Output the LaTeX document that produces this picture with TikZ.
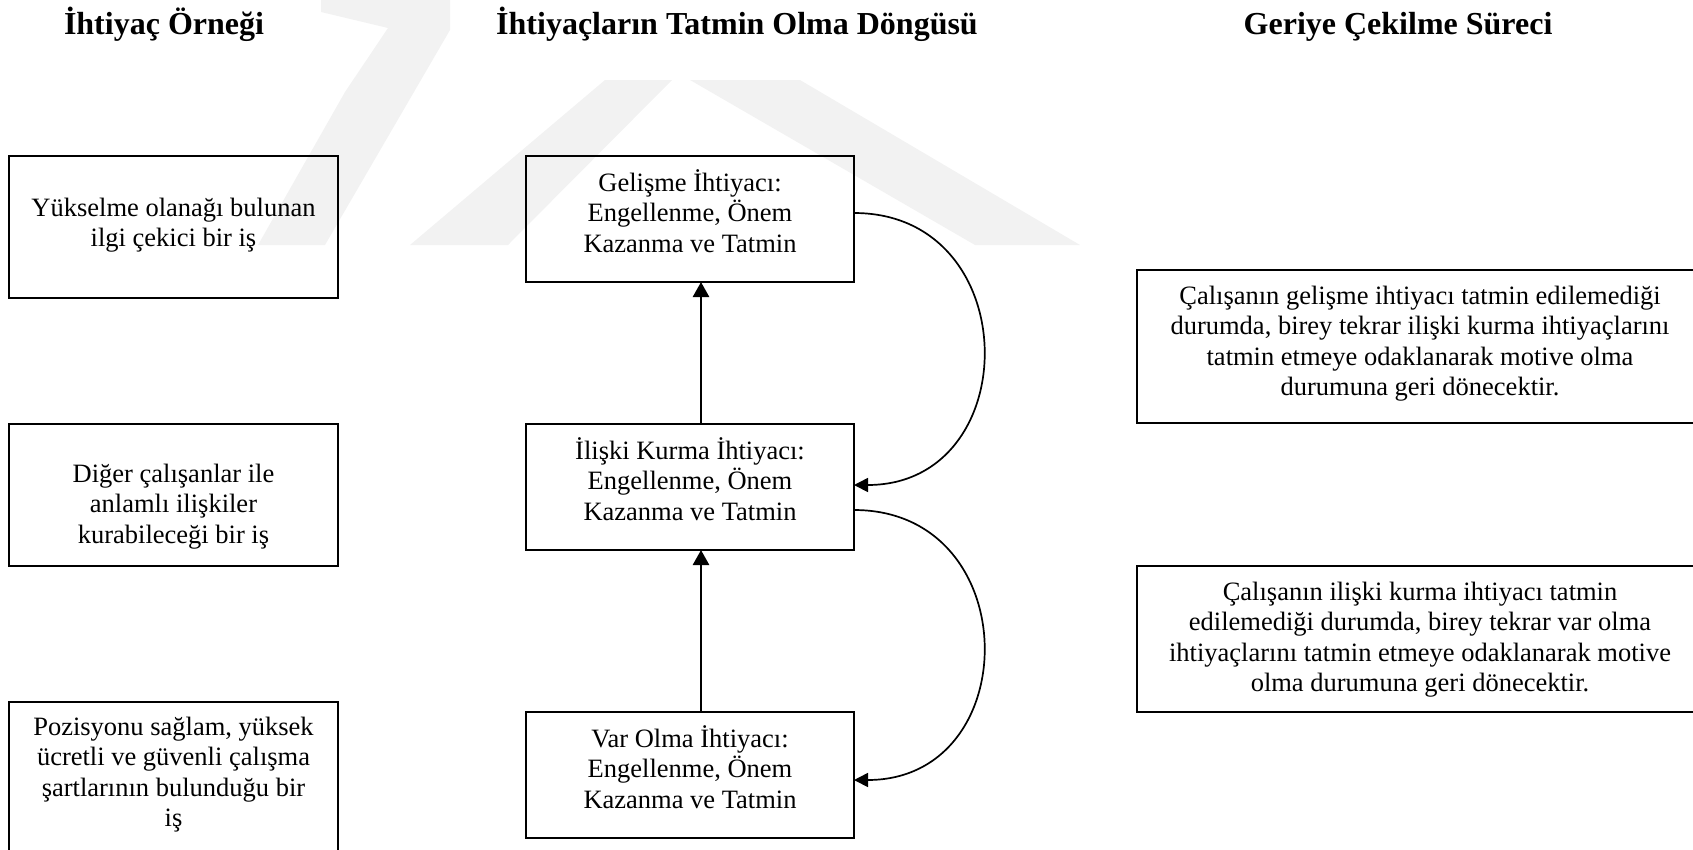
\documentclass[tikz,border=0pt]{standalone}
\usepackage{fontspec}
\setmainfont{Liberation Serif}
\usetikzlibrary{arrows.meta,calc}

\definecolor{wmgray}{gray}{0.95}

% centred lines with a fixed baseline pitch; the baseline is that of the first line
\newcommand{\boxlines}[1]{\vtop{\baselineskip=30.5pt\lineskiplimit=-60pt\lineskip=0pt\halign{\hfil##\hfil\cr#1\crcr}}}

\begin{document}
\begin{tikzpicture}[x=1pt,y=-1pt,
  box/.style={draw=black, line width=2pt, inner sep=0pt, outer sep=0pt},
  txt/.style={inner sep=0pt, anchor=base, font=\fontsize{26.5}{30.5}\selectfont},
  head/.style={inner sep=0pt, anchor=base, font=\fontsize{32}{38}\selectfont\bfseries},
  uparrow/.style={line width=2.6pt, -{Triangle[length=15pt,width=16pt]}},
  curvearrow/.style={line width=1.7pt, -{Triangle[length=14pt,width=14pt]}}]

\useasboundingbox (0,0) rectangle (1693,849);

% faint background mark
\fill[wmgray] (321,0) -- (450,0) -- (450,30) -- (325,245) -- (258,245) -- (345,92) -- (388,28) -- (321,12) -- cycle;
\fill[wmgray] (605,80) -- (672,80) -- (508,245) -- (410,245) -- cycle;
\fill[wmgray] (690,80) -- (800,80) -- (1080,245) -- (975,245) -- cycle;

% headings
\node[head] (h1) at (164,34) {İhtiyaç Örneği};
\node[head] (h2) at (737,34) {İhtiyaçların Tatmin Olma Döngüsü};
\node[head] (h3) at (1398,34) {Geriye Çekilme Süreci};

% left column: examples
\node[box, minimum width=329pt, minimum height=142pt] (l1) at (173.5,227) {};
\node[box, minimum width=329pt, minimum height=142pt] (l2) at (173.5,495) {};
\node[box, minimum width=329pt, minimum height=170pt] (l3) at (173.5,787) {};
\node[txt] (l1t) at (173.5,216) {\boxlines{Yükselme olanağı bulunan\cr ilgi çekici bir iş}};
\node[txt] (l2t) at (173.5,482) {\boxlines{Diğer çalışanlar ile\cr anlamlı ilişkiler\cr kurabileceği bir iş}};
\node[txt] (l3t) at (173.5,735) {\boxlines{Pozisyonu sağlam, yüksek\cr ücretli ve güvenli çalışma\cr şartlarının bulunduğu bir\cr iş}};

% middle column: the cycle
\node[box, minimum width=328pt, minimum height=126pt] (g) at (690,219) {};
\node[box, minimum width=328pt, minimum height=126pt] (i) at (690,487) {};
\node[box, minimum width=328pt, minimum height=126pt] (v) at (690,775) {};
\node[txt] (gt) at (690,191) {\boxlines{Gelişme İhtiyacı:\cr Engellenme, Önem\cr Kazanma ve Tatmin}};
\node[txt] (it) at (690,459) {\boxlines{İlişki Kurma İhtiyacı:\cr Engellenme, Önem\cr Kazanma ve Tatmin}};
\node[txt] (vt) at (690,747) {\boxlines{Var Olma İhtiyacı:\cr Engellenme, Önem\cr Kazanma ve Tatmin}};

% right column: regression
\node[box, minimum width=566pt, minimum height=153pt] (ra) at (1420,346.5) {};
\node[box, minimum width=566pt, minimum height=146pt] (rb) at (1420,639) {};
\node[txt] (rat) at (1420,304) {\boxlines{Çalışanın gelişme ihtiyacı tatmin edilemediği\cr durumda, birey tekrar ilişki kurma ihtiyaçlarını\cr tatmin etmeye odaklanarak motive olma\cr durumuna geri dönecektir.}};
\node[txt] (rbt) at (1420,600) {\boxlines{Çalışanın ilişki kurma ihtiyacı tatmin\cr edilemediği durumda, birey tekrar var olma\cr ihtiyaçlarını tatmin etmeye odaklanarak motive\cr olma durumuna geri dönecektir.}};

% connectors
\coordinate (ax) at (701,0);
\draw[uparrow] (i.north -| ax) -- (g.south -| ax);
\draw[uparrow] (v.north -| ax) -- (i.south -| ax);
\draw[curvearrow] ([yshift=6pt]g.east) .. controls +(172,0) and +(172,0) .. ([yshift=2pt]i.east);
\draw[curvearrow] ([yshift=-23pt]i.east) .. controls +(172,0) and +(172,0) .. ([yshift=-5pt]v.east);

\end{tikzpicture}
\end{document}
